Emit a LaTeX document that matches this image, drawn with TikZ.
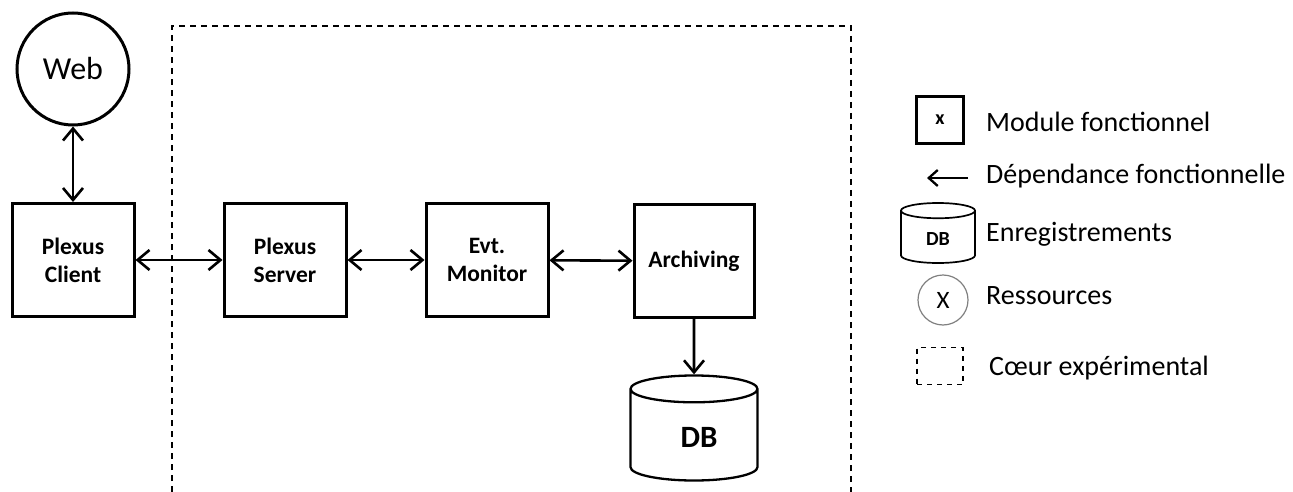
\documentclass[tikz,border=0pt]{standalone}
\usepackage{fontspec}
\setmainfont{Carlito}
\usetikzlibrary{positioning, arrows.meta, shapes.geometric}

\begin{document}
\begin{tikzpicture}[x=1pt, y=-1pt, every node/.style={font=\fontsize{22}{26}\selectfont}]

	\tikzstyle{block} = [rectangle, draw, line width=3pt, minimum width=122pt, minimum height=113pt, align=center, font=\fontsize{23.5}{28}\selectfont\bfseries]
	\tikzstyle{line} = [draw, line width=2.6pt, {Straight Barb[length=12pt, width=20pt]}-{Straight Barb[length=12pt, width=20pt]}]
	\tikzstyle{oneway} = [draw, line width=2.6pt, -{Straight Barb[length=12pt, width=20pt]}]
	\tikzstyle{circleblock} = [circle, draw, line width=3pt, minimum size=112pt, font=\fontsize{32}{38}\selectfont]
	\tikzstyle{dbblock} = [cylinder, shape border rotate=90, draw, line width=2.3pt, aspect=0.5, anchor=shape center]
	\tikzstyle{legendtext} = [anchor=west, inner sep=0pt, font=\fontsize{28}{34}\selectfont]

	\useasboundingbox (0,0) rectangle (1293,492);

	% experimental core
	\draw [line width=1.7pt, dash pattern=on 6pt off 5pt] (172,492) |- (851,26) -- (851,492);

	% modules
	\node [circleblock] (web) at (73,69) {Web};
	\node [block] (client) at (73,260) {Plexus\\Client};
	\node [block] (server) at (285,260) {Plexus\\Server};
	\node [block] (monitor) at (487,260) {Evt.\\Monitor};
	\node [block, minimum width=120pt] (archiving) at (694,261) {Archiving};
	\node [dbblock, minimum width=127pt, minimum height=105pt, font=\fontsize{31}{36}\selectfont\bfseries] (db) at (694,428) {\hspace{10pt}DB};

	\path [line] (web) -- (client);
	\path [line] (client) -- (server);
	\path [line] (server) -- (monitor);
	\path [line] (monitor) -- (archiving);
	\path [oneway] (archiving) -- (db);

	% legend
	\node [rectangle, draw, line width=3pt, minimum width=47pt, minimum height=47pt, font=\fontsize{20}{24}\selectfont\bfseries] (lgmodule) at (940,120) {x};
	\node [legendtext] (lgmoduletext) at (986,122) {Module fonctionnel};
	\coordinate (lgdepfrom) at (968,178);
	\coordinate (lgdepto) at (927,178);
	\path [draw, line width=2.3pt, -{Straight Barb[length=9pt, width=16pt]}] (lgdepfrom) -- (lgdepto);
	\node [legendtext] (lgdeptext) at (986,176) {Dépendance fonctionnelle};
	\node [dbblock, line width=1.7pt, minimum width=74pt, minimum height=60pt, font=\fontsize{20}{24}\selectfont\bfseries] (lgdb) at (938,233) {DB};
	\node [legendtext] (lgdbtext) at (986,234) {Enregistrements};
	\node [circle, draw=gray, line width=1.2pt, minimum size=50pt, font=\fontsize{25}{30}\selectfont] (lgres) at (943,300) {\raisebox{-3pt}{X}};
	\node [legendtext] (lgrestext) at (986,296) {Ressources};
	\node [rectangle, draw, line width=1.7pt, dash pattern=on 5pt off 5pt, minimum width=46pt, minimum height=37pt] (lgcore) at (940,366) {};
	\node [legendtext] (lgcoretext) at (989,368) {Cœur expérimental};

\end{tikzpicture}
\end{document}
